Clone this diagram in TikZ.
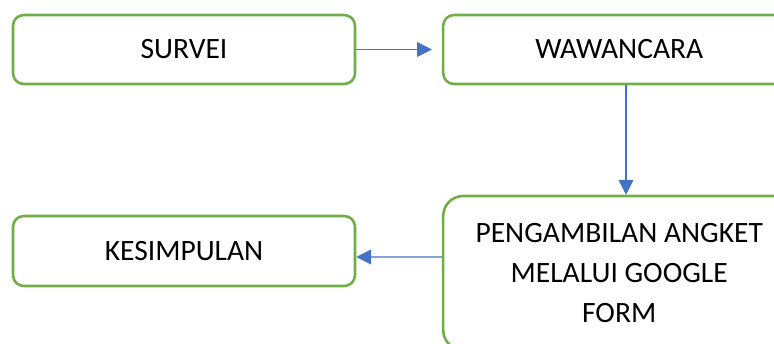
\documentclass[tikz,border=0pt]{standalone}
\usepackage{fontspec}
\setmainfont{Carlito}
\usepackage{tikz}
\usetikzlibrary{arrows.meta,positioning}
\definecolor{boxgreen}{HTML}{70AD47}
\definecolor{lineblue}{HTML}{4472C4}

\begin{document}
\begin{tikzpicture}[
    >={Triangle[length=10.5pt,width=10.5pt]},
    font=\fontsize{21}{28.5}\selectfont,
    step1/.style={
		rectangle,
		rounded corners=0.27cm,
		draw=boxgreen,
		line width=1.8pt,
		text centered,
		minimum height=1.725cm,
		minimum width=8.55cm,
		fill=white
	},
	step2/.style={
		step1,
		minimum width=8.8cm
	},
	big/.style={
		step2,
		rounded corners=0.5cm,
		align=center,
		minimum height=3.85cm
	},
	flow/.style={
		draw=lineblue,
		line width=0.8pt,
		->
	}
  ]

 \path[use as bounding box, clip] (0,0) rectangle (19.35,-8.575);

 \node [step1] (survei) at (4.6,-1.2375) {SURVEI};
 \node [step2] (wawancara) at (15.48,-1.2375) {WAWANCARA};
 \node [big] (angket) at (15.48,-6.825)
 {PENGAMBILAN ANGKET\\ MELALUI GOOGLE\\ FORM};
 \node [step1, minimum height=1.75cm] (kesimpulan) at (4.6,-6.275) {KESIMPULAN};

 \draw [flow, shorten >=0.25cm] (survei) -- (wawancara);
 \draw [flow] ([xshift=0.17cm]wawancara.south) -- ([xshift=0.17cm]angket.north);
 \draw [flow] (angket.west |- 0,-6.425) -- ([yshift=-0.15cm]kesimpulan.east);

\end{tikzpicture}
\end{document}
